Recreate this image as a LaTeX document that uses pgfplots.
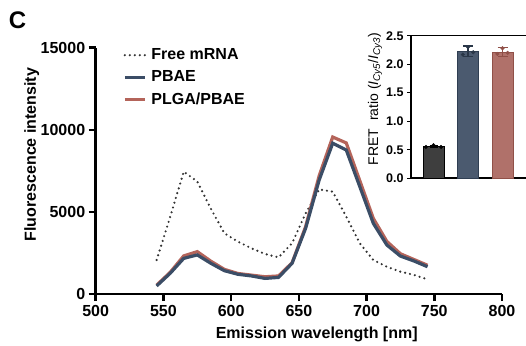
\documentclass[border=0pt]{standalone}
\usepackage{fontspec}
\setmainfont{Liberation Sans}
\usepackage{pgfplots}
\pgfplotsset{compat=1.18}
\definecolor{pbae}{HTML}{3B4D66}
\definecolor{plga}{HTML}{B4645A}
\definecolor{freec}{HTML}{333333}
\definecolor{bargray}{HTML}{3E3E3E}
\definecolor{barblue}{HTML}{4B5A6F}
\definecolor{barred}{HTML}{B0716A}
\begin{document}
\begin{tikzpicture}
\begin{axis}[
  at={(95.7bp,52bp)}, anchor=south west, scale only axis,
  width=406.3bp, height=246.3bp,
  xmin=500, xmax=800, ymin=0, ymax=15000,
  axis x line*=bottom, axis y line*=left,
  axis line style={line width=2.5bp, -},
  xtick={500,550,...,800}, ytick={0,5000,10000,15000},
  tick align=outside, major tick length=7bp,
  tick style={line width=2.5bp, black},
  scaled y ticks=false,
  /pgf/number format/assume math mode=true,
  /pgf/number format/1000 sep={},
  ticklabel style={font=\fontsize{16bp}{18bp}\selectfont\bfseries},
  xticklabel style={yshift=-1bp},
  xlabel={Emission wavelength [nm]},
  ylabel={Fluorescence intensity},
  label style={font=\fontsize{16bp}{18bp}\selectfont\bfseries},
  xlabel style={at={(axis description cs:0.544,-0.162)}, anchor=center},
  ylabel style={at={(axis description cs:-0.1575,0.566)}, anchor=center},
  legend style={draw=none, fill=none, at={(axis description cs:0.06,1.012)}, anchor=north west,
    font=\fontsize{16bp}{18bp}\selectfont\bfseries, row sep=5.5bp},
  legend cell align=left,
  legend image code/.code={\draw[#1] (0bp,0bp) -- (20bp,0bp); \path (23bp,0bp);},
]
\addplot[freec, line width=2.4bp, line cap=round, dash pattern=on 0pt off 5bp] coordinates {
(545,2070)(555,4700)(565,7450)(575,6850)(585,5200)(595,3700)(605,3190)(615,2780)(625,2440)(635,2230)
(645,3090)(655,4910)(665,6370)(675,6230)(685,4710)(695,3090)(705,2070)(715,1660)(725,1360)(735,1160)(745,890)};
\addlegendentry{Free mRNA}
\addplot[plga, line width=3.2bp, forget plot] coordinates {
(545,540)(555,1320)(565,2320)(575,2580)(585,2000)(595,1500)(605,1250)(615,1150)(625,1050)(635,1100)
(645,1900)(655,4100)(665,7200)(675,9560)(685,9200)(695,6900)(705,4600)(715,3200)(725,2450)(735,2100)(745,1750)};
\addplot[pbae, line width=3.2bp] coordinates {
(545,490)(555,1260)(565,2170)(575,2380)(585,1870)(595,1420)(605,1200)(615,1100)(625,950)(635,1010)
(645,1870)(655,4000)(665,6940)(675,9180)(685,8770)(695,6540)(705,4300)(715,2980)(725,2310)(735,2010)(745,1660)};
\addlegendentry{PBAE}
\addlegendimage{plga, line width=3.2bp}
\addlegendentry{PLGA/PBAE}
\end{axis}
% inset
\begin{axis}[
  at={(411bp,167.7bp)}, anchor=south west, scale only axis,
  width=116bp, height=142.6bp,
  xmin=0.348, xmax=3.71, ymin=0, ymax=2.5,
  axis line style={line width=1.6bp, -},
  xtick=\empty, ytick={0,0.5,...,2.5},
  tick align=outside, major tick length=4bp,
  ytick style={line width=1.4bp, black},
  /pgf/number format/assume math mode=true,
  /pgf/number format/.cd, fixed, fixed zerofill, precision=1, /pgfplots/.cd,
  ticklabel style={font=\fontsize{12.5bp}{14bp}\selectfont\bfseries},
  ylabel={FRET\ \ ratio (\textit{I}\textsubscript{\textit{Cy5}}/\textit{I}\textsubscript{\textit{Cy3}})},
  ylabel style={font=\fontsize{14bp}{16bp}\selectfont, at={(axis description cs:-0.31,0.555)}, anchor=center},
  clip=false,
]
\addplot[ybar, bar width=21bp, bar shift=0pt, fill=bargray, draw=black, line width=0.8bp] coordinates {(1,0.56)};
\addplot[ybar, bar width=21bp, bar shift=0pt, fill=barblue, draw=pbae!80!black, line width=0.8bp] coordinates {(2,2.23)};
\addplot[ybar, bar width=21bp, bar shift=0pt, fill=barred, draw=plga!80!black, line width=0.8bp] coordinates {(3,2.21)};
\addplot[draw=none, mark=none, error bars/.cd, y dir=both, y explicit,
  error bar style={line width=1.2bp, black}, error mark options={rotate=90, mark size=4bp, line width=1.2bp, black}]
  coordinates {(1,0.56) +- (0,0.02)};
\addplot[draw=none, mark=none, error bars/.cd, y dir=both, y explicit,
  error bar style={line width=1.2bp, pbae!70!black}, error mark options={rotate=90, mark size=5bp, line width=1.2bp, pbae!70!black}]
  coordinates {(2,2.23) +- (0,0.09)};
\addplot[draw=none, mark=none, error bars/.cd, y dir=both, y explicit,
  error bar style={line width=1.2bp, plga!80!black}, error mark options={rotate=90, mark size=5bp, line width=1.2bp, plga!80!black}]
  coordinates {(3,2.21) +- (0,0.08)};
\addplot[only marks, mark=*, mark size=1.8bp, black] coordinates {(0.78,0.55)(1,0.58)(1.22,0.55)};
\addplot[only marks, mark=*, mark size=1.8bp, pbae!70!black] coordinates {(1.85,2.17)(2,2.30)(2.15,2.21)};
\addplot[only marks, mark=*, mark size=1.8bp, plga!80!black] coordinates {(2.85,2.18)(3,2.28)(3.15,2.20)};
\end{axis}
\node[font=\fontsize{24bp}{26bp}\selectfont\bfseries] at (17.5bp,325.5bp) {C};
\pgfresetboundingbox
\path[use as bounding box] (0,0) rectangle (526bp,346bp);
\end{tikzpicture}
\end{document}
